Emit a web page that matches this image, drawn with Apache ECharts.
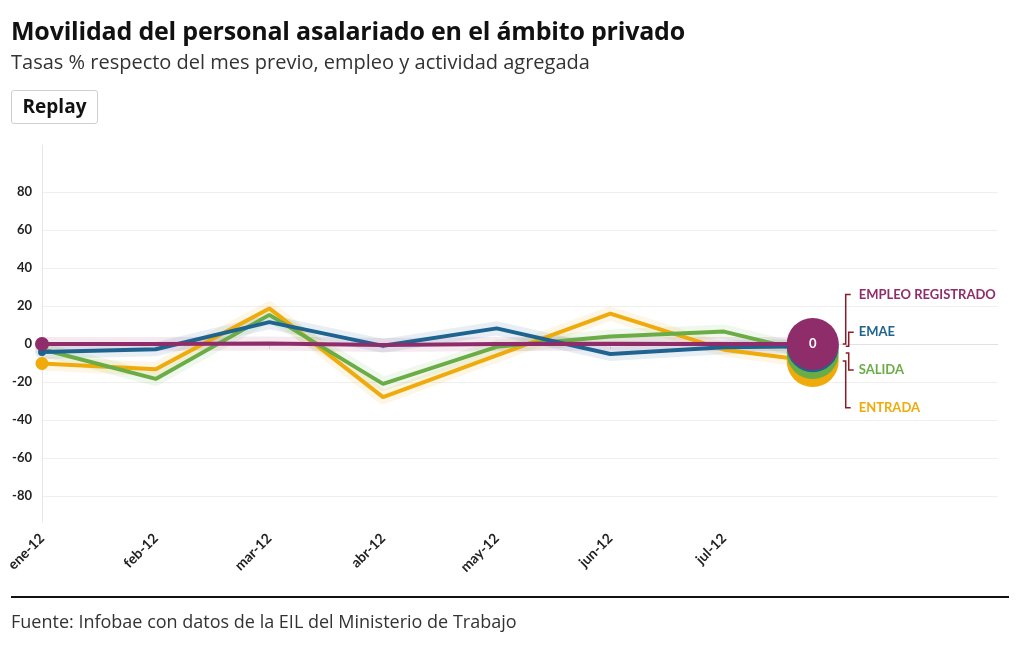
<!DOCTYPE html>
<html><head><meta charset="utf-8">
<script src="https://cdn.jsdelivr.net/npm/echarts@6/dist/echarts.min.js"></script>
<style>
body{margin:0;width:1020px;height:650px;background:#fff;font-family:'Open Sans','Noto Sans',sans-serif;overflow:hidden;position:relative}
#chart{position:absolute;left:0;top:0;width:1020px;height:650px;z-index:1}
.t{position:absolute;z-index:2;white-space:nowrap}
#title{left:11px;top:13px;font-size:25px;font-weight:700;color:#111;letter-spacing:-0.2px}
#sub{left:11px;top:48px;font-size:20px;color:#333}
#btn{left:11px;top:90px;width:87px;height:34px;border:1px solid #cfcfcf;border-radius:3px;box-sizing:border-box;font-weight:700;font-size:19px;text-align:center;line-height:31px;color:#111}
#rule{position:absolute;left:11px;top:596px;width:998px;height:2px;background:#111;z-index:2}
#src{left:11px;top:609px;font-size:18px;color:#333}
</style></head>
<body>
<div id="chart"></div>
<div class="t" id="title">Movilidad del personal asalariado en el ámbito privado</div>
<div class="t" id="sub">Tasas % respecto del mes previo, empleo y actividad agregada</div>
<div class="t" id="btn">Replay</div>
<div id="rule"></div>
<div class="t" id="src">Fuente: Infobae con datos de la EIL del Ministerio de Trabajo</div>
<script>
const categories = ['ene-12','feb-12','mar-12','abr-12','may-12','jun-12','jul-12'];
const currentPos = 6.78;           // animation frame position (between jul-12 and ago-12)
const yTicks = [-80,-60,-40,-20,0,20,40,60,80];
const empleo  = [0, 0, 0.2, -0.5, 0, 0.1, 0, 0];
const emae    = [-4.2, -2.8, 11.5, -1, 8.2, -5.3, -1.8, -1.2];
const salida  = [-2.8, -18.4, 15.3, -21, -1.5, 3.9, 6.5, -4.8];
const entrada = [-10.3, -13.3, 18.7, -28, -6, 16, -3, -9];
const seriesNames = ['ENTRADA','SALIDA','EMAE','EMPLEO REGISTRADO'];

const colors = {'ENTRADA':'#eeab0b','SALIDA':'#6aad47','EMAE':'#1f6491','EMPLEO REGISTRADO':'#8f2d6b'};
const startSizes = {'ENTRADA':13,'SALIDA':0,'EMAE':8,'EMPLEO REGISTRADO':14};
const dataByName = {'ENTRADA':entrada,'SALIDA':salida,'EMAE':emae,'EMPLEO REGISTRADO':empleo};
const xs = categories.map((c,i)=>i).concat([currentPos]);
const yMin = -93.7, yMax = 104.7, xMax = 8.41;

const series = [];
// soft halo under each line
seriesNames.forEach(name=>{
  const d = dataByName[name], c = colors[name];
  series.push({
    type:'line', name:name+'_halo', data: xs.map((x,i)=>[x,d[i]]),
    symbol:'none', silent:true,
    lineStyle:{width:14,color:c,opacity:0.1,join:'round',cap:'round'},
    emphasis:{disabled:true}, z:1
  });
});
seriesNames.forEach(name=>{
  const d = dataByName[name], c = colors[name];
  series.push({
    type:'line', name, data: xs.map((x,i)=>[x,d[i]]),
    symbol:'circle', showSymbol:true,
    symbolSize:(v,p)=>p.dataIndex===0?startSizes[name]:0,
    itemStyle:{color:c},
    lineStyle:{width:4,color:c},
    emphasis:{disabled:true}, z:2
  });
});
seriesNames.forEach(name=>{
  const d = dataByName[name], c = colors[name];
  series.push({
    type:'scatter', name:name+'_end', data:[[currentPos,d[d.length-1]]],
    symbolSize:52, itemStyle:{color:c, opacity:1},
    label:{show:name==='EMPLEO REGISTRADO', formatter:p=>String(Math.round(p.value[1])+0),
      color:'#fff', fontWeight:'bold', fontSize:13, fontFamily:'Lato'},
    emphasis:{disabled:true}, z:3
  });
});

const chart = echarts.init(document.getElementById('chart'), null, {renderer:'canvas'});
chart.setOption({
  animation:false,
  grid:{left:42,right:22,top:145,bottom:128,containLabel:false,outerBoundsMode:'none'},
  xAxis:{type:'value',min:0,max:xMax,
    axisLine:{show:true,lineStyle:{color:'#e2e2e2',width:1}},
    axisTick:{show:true,length:5,lineStyle:{color:'#e2e2e2'},customValues:categories.map((c,i)=>i)},
    axisLabel:{customValues:categories.map((c,i)=>i),formatter:v=>categories[Math.round(v)]||'',
      rotate:45,fontWeight:'bold',fontSize:14,color:'#222',fontFamily:'Lato',margin:14},
    splitLine:{show:false}},
  yAxis:{type:'value',min:yMin,max:yMax,
    axisLine:{show:true,lineStyle:{color:'#e6e6e6'}},
    axisTick:{show:false,customValues:yTicks},
    axisLabel:{customValues:yTicks,fontWeight:'bold',fontSize:13,color:'#222',fontFamily:'Lato',margin:10},
    splitLine:{show:true,lineStyle:{color:'#efefef',width:1}}},
  series
});

// end labels with bracket connectors
const order = seriesNames.slice().sort((a,b)=>dataByName[b][dataByName[b].length-1]-dataByName[a][dataByName[a].length-1]);
const ends = order.map(n=>{const d=dataByName[n];return chart.convertToPixel({gridIndex:0},[currentPos,d[d.length-1]]);});
const meanY = ends.reduce((s,p)=>s+p[1],0)/ends.length;
const gap = 37.7, n = order.length;
const circleX = ends[0][0];
const graphics = [];
order.forEach((name,i)=>{
  const ly = meanY + (i-(n-1)/2)*gap;
  const ey = ends[i][1];
  const outer = (i===0||i===n-1);
  const bx = circleX + (outer?33:36);
  graphics.push({type:'polyline',shape:{points:[[bx+5,ly],[bx,ly],[bx,ey],[bx-3,ey]]},
    style:{stroke:'#8c1b2a',lineWidth:1.5,fill:null},z:10});
  graphics.push({type:'text',x:circleX+46,y:ly,style:{text:name,fill:colors[name],
    font:'bold 13px Lato',verticalAlign:'middle',align:'left'},z:10});
});
chart.setOption({graphic:graphics});
</script>
</body></html>
